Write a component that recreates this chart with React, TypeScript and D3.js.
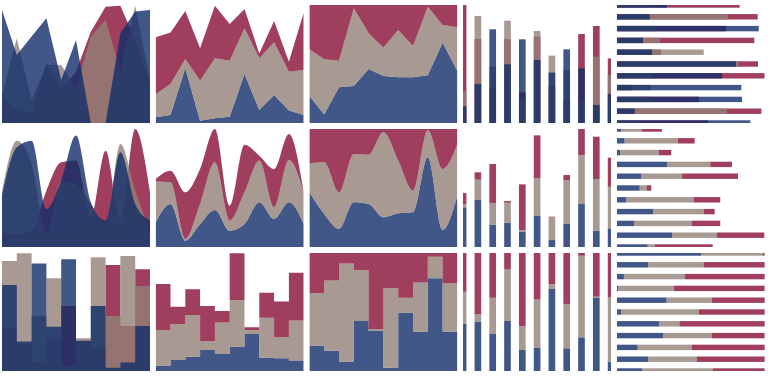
import React from 'react';
import * as d3 from 'd3';

const W = 771;
const H = 378;
const PW = 148;
const PH = 118;
const COL_X = [2, 155.7, 309.4, 463.1, 616.8];
const ROW_Y = [5, 129, 253];
const COLORS: Record<string, string> = { blue: '#102d69', gray: '#928177', red: '#870f34' };
const FILL_OPACITY = 0.8;
const STACK_KEYS = ['blue', 'gray', 'red'];
const OVERLAY_ORDER = ['red', 'gray', 'blue'];

// ---- Row 0 : linear ----
const r0AreaOverlayBlue = [95.8, 57.6, 73.2, 88.7, 36.4, 70.3, 0, 0, 76.0, 94.4, 95.8];
const r0AreaOverlayGray = [23.7, 71.8, 19.5, 49.2, 49.2, 29.4, 73.2, 87.3, 44.9, 99.4, 36.4];
const r0AreaOverlayRed = [22.3, 11.0, 8.2, 50.6, 28.0, 43.5, 77.4, 98.6, 99.4, 70.3, 33.6];

const r0AreaStackBlue = [4.8, 6.8, 46.3, 2.0, 4.0, 5.4, 41.5, 11.0, 23.7, 10.5, 6.8];
const r0AreaStackGray = [19.5, 26.3, 7.9, 33.9, 50.8, 47.4, 38.7, 43.8, 44.7, 33.0, 38.1];
const r0AreaStackRed = [48.3, 43.7, 40.7, 27.4, 44.6, 31.1, 16.4, 4.2, 18.0, 8.5, 48.6];

const r0AreaNormBlue = [22.9, 7.3, 30.2, 31.4, 45.8, 39.8, 38.7, 38.7, 40.4, 68.1, 44.1];
const r0AreaNormGray = [39.5, 46.7, 22.6, 65.8, 30.2, 24.0, 40.1, 26.6, 58.2, 15.0, 37.0];
const r0AreaNormRed = [37.6, 46.0, 47.2, 2.8, 24.0, 36.2, 21.2, 34.7, 1.4, 16.9, 18.9];

const r0VBarBlue = [14.1, 33.1, 79.4, 49.7, 70.9, 53.4, 42.7, 62.4, 46.3, 15.3, 24.6];
const r0VBarGray = [27.1, 90.7, 47.7, 86.7, 21.5, 78.0, 57.1, 44.9, 18.1, 56.2, 40.7];
const r0VBarRed = [100, 71.2, 30.2, 71.2, 26.0, 73.2, 31.4, 19.5, 75.4, 82.2, 54.8];

const r0HBarBlue = [33.9, 22.2, 95.9, 17.7, 23.8, 80.5, 71.1, 84.1, 84.6, 12.1, 90.2];
const r0HBarGray = [23.8, 75.1, 26.0, 29.0, 58.7, 82.3, 24.5, 23.1, 24.5, 74.5, 15.9];
const r0HBarRed = [83.0, 95.2, 73.8, 92.9, 29.9, 95.4, 99.9, 10.3, 55.3, 97.7, 61.6];

// ---- Row 1 : smooth ----
const r1AreaOverlayBlue = [43.5, 84.5, 90.1, 32.2, 56.2, 94.4, 37.9, 22.3, 80.2, 36.4, 22.3];
const r1AreaOverlayGray = [46.3, 90.1, 70.3, 11.0, 56.2, 53.4, 36.4, 19.5, 87.3, 47.7, 13.8];
const r1AreaOverlayRed = [11.0, 11.0, 13.8, 47.7, 71.8, 73.2, 25.1, 81.6, 22.3, 100, 46.3];

const r1AreaStackBlue = [20.9, 36.4, 5.4, 19.5, 31.4, 13.8, 19.5, 37.9, 23.7, 37.9, 19.5];
const r1AreaStackGray = [34.7, 18.4, 1.4, 16.9, 40.4, 8.5, 26.8, 35.3, 9.9, 35.8, 26.3];
const r1AreaStackRed = [2.0, 9.9, 39.5, 29.7, 28.2, 12.7, 40.4, 4.2, 32.5, 22.1, 0.5];

const r1AreaNormBlue = [46.3, 28.0, 15.3, 37.9, 36.4, 25.1, 28.5, 29.4, 76.0, 14.4, 43.5];
const r1AreaNormGray = [24.6, 43.8, 31.0, 40.9, 41.8, 72.1, 44.7, 18.3, 23.2, 51.7, 43.8];
const r1AreaNormRed = [29.1, 28.2, 53.7, 21.2, 21.8, 2.8, 26.8, 52.3, 0.8, 33.9, 12.7];

const r1VBarBlue = [33.6, 39.8, 18.9, 20.6, 13.0, 26.6, 5.9, 19.5, 36.4, 13.8, 15.8];
const r1VBarGray = [2.8, 17.3, 18.4, 17.0, 1.4, 31.9, 19.2, 37.3, 41.6, 43.8, 35.3];
const r1VBarRed = [9.4, 6.2, 33.0, 1.4, 38.7, 36.1, 0.6, 4.2, 22.0, 35.9, 24.6];

const r1HBarBlue = [3.1, 5.3, 2.4, 33.9, 16.6, 15.5, 6.4, 24.5, 11.6, 37.3, 20.9];
const r1HBarGray = [13.9, 36.0, 25.9, 29.3, 27.5, 4.9, 45.5, 34.4, 39.2, 30.4, 4.7];
const r1HBarRed = [13.5, 11.3, 8.5, 14.6, 37.8, 2.9, 18.0, 7.2, 19.1, 32.0, 39.2];

// ---- Row 2 : step ----
const r2AreaOverlayBlue = [72.9, 24.9, 91.2, 37.6, 94.6, 25.7, 55.1, 2.8, 7.1, 38.1, 38.1];
const r2AreaOverlayGray = [93.2, 99.7, 46.9, 78.5, 4.2, 27.7, 96.3, 46.6, 97.5, 72.0, 72.0];
const r2AreaOverlayRed = [36.7, 23.4, 7.1, 27.1, 55.1, 25.7, 20.6, 89.8, 38.1, 86.2, 86.2];

const r2AreaStackBlue = [4.5, 9.3, 12.1, 17.8, 14.4, 20.6, 31.4, 11.3, 10.7, 8.8, 8.8];
const r2AreaStackGray = [30.2, 30.5, 35.4, 7.6, 26.6, 39.6, 3.3, 33.9, 17.8, 33.9, 33.9];
const r2AreaStackRed = [39.0, 14.7, 21.7, 29.7, 9.8, 39.5, 2.3, 21.2, 30.3, 40.6, 40.6];

const r2AreaNormBlue = [21.5, 17.2, 7.9, 42.4, 33.9, 2.8, 49.4, 33.3, 78.5, 33.3, 33.3];
const r2AreaNormGray = [44.3, 59.4, 83.3, 43.2, 1.4, 67.3, 12.7, 41.8, 18.4, 41.0, 41.0];
const r2AreaNormRed = [34.2, 23.4, 8.8, 14.4, 64.7, 29.9, 37.9, 24.9, 3.1, 25.7, 25.7];

const r2VBarBlue = [39.8, 41.8, 31.4, 42.4, 17.8, 19.8, 69.5, 19.2, 28.5, 62.1, 7.9];
const r2VBarGray = [27.4, 6.5, 30.7, 44.0, 20.3, 40.9, 4.2, 37.6, 69.2, 0.9, 54.5];
const r2VBarRed = [32.8, 51.7, 37.9, 13.6, 61.9, 39.3, 26.3, 43.2, 2.3, 37.0, 37.6];

const r2HBarBlue = [56.9, 21.3, 4.8, 1.0, 33.7, 2.8, 28.8, 31.4, 14.1, 21.3, 17.3];
const r2HBarGray = [41.7, 37.6, 41.3, 37.6, 30.6, 52.7, 13.5, 32.9, 36.5, 32.7, 47.5];
const r2HBarRed = [1.4, 41.1, 53.9, 61.4, 35.7, 44.5, 57.7, 35.7, 49.4, 46.0, 35.2];

type Mode = 'overlay' | 'stack' | 'normalize';
type Kind = 'area' | 'vbar' | 'hbar';
interface Spec {
  row: number;
  col: number;
  kind: Kind;
  mode: Mode;
  curve?: any;
  blue: number[];
  gray: number[];
  red: number[];
}

const CURVES = [d3.curveLinear, d3.curveMonotoneX, d3.curveStepAfter];

const SPECS: Spec[] = [
  { row: 0, col: 0, kind: 'area', mode: 'overlay', curve: CURVES[0], blue: r0AreaOverlayBlue, gray: r0AreaOverlayGray, red: r0AreaOverlayRed },
  { row: 0, col: 1, kind: 'area', mode: 'stack', curve: CURVES[0], blue: r0AreaStackBlue, gray: r0AreaStackGray, red: r0AreaStackRed },
  { row: 0, col: 2, kind: 'area', mode: 'normalize', curve: CURVES[0], blue: r0AreaNormBlue, gray: r0AreaNormGray, red: r0AreaNormRed },
  { row: 0, col: 3, kind: 'vbar', mode: 'overlay', blue: r0VBarBlue, gray: r0VBarGray, red: r0VBarRed },
  { row: 0, col: 4, kind: 'hbar', mode: 'overlay', blue: r0HBarBlue, gray: r0HBarGray, red: r0HBarRed },
  { row: 1, col: 0, kind: 'area', mode: 'overlay', curve: CURVES[1], blue: r1AreaOverlayBlue, gray: r1AreaOverlayGray, red: r1AreaOverlayRed },
  { row: 1, col: 1, kind: 'area', mode: 'stack', curve: CURVES[1], blue: r1AreaStackBlue, gray: r1AreaStackGray, red: r1AreaStackRed },
  { row: 1, col: 2, kind: 'area', mode: 'normalize', curve: CURVES[1], blue: r1AreaNormBlue, gray: r1AreaNormGray, red: r1AreaNormRed },
  { row: 1, col: 3, kind: 'vbar', mode: 'stack', blue: r1VBarBlue, gray: r1VBarGray, red: r1VBarRed },
  { row: 1, col: 4, kind: 'hbar', mode: 'stack', blue: r1HBarBlue, gray: r1HBarGray, red: r1HBarRed },
  { row: 2, col: 0, kind: 'area', mode: 'overlay', curve: CURVES[2], blue: r2AreaOverlayBlue, gray: r2AreaOverlayGray, red: r2AreaOverlayRed },
  { row: 2, col: 1, kind: 'area', mode: 'stack', curve: CURVES[2], blue: r2AreaStackBlue, gray: r2AreaStackGray, red: r2AreaStackRed },
  { row: 2, col: 2, kind: 'area', mode: 'normalize', curve: CURVES[2], blue: r2AreaNormBlue, gray: r2AreaNormGray, red: r2AreaNormRed },
  { row: 2, col: 3, kind: 'vbar', mode: 'normalize', blue: r2VBarBlue, gray: r2VBarGray, red: r2VBarRed },
  { row: 2, col: 4, kind: 'hbar', mode: 'normalize', blue: r2HBarBlue, gray: r2HBarGray, red: r2HBarRed },
];

type Layer = { key: string; segs: [number, number][] };

function buildLayers(spec: Spec): Layer[] {
  const n = spec.blue.length;
  const table = d3.range(n).map((i) => ({ blue: spec.blue[i], gray: spec.gray[i], red: spec.red[i] })) as any[];
  if (spec.mode === 'overlay') {
    return OVERLAY_ORDER.map((k) => ({ key: k, segs: table.map((d) => [0, d[k]] as [number, number]) }));
  }
  const st = d3
    .stack<any>()
    .keys(STACK_KEYS)
    .offset(spec.mode === 'normalize' ? d3.stackOffsetExpand : d3.stackOffsetNone)(table);
  return st.map((s) => ({ key: s.key, segs: s.map((p) => [p[0], p[1]] as [number, number]) }));
}

function Panel({ spec }: { spec: Spec }) {
  const layers = buildLayers(spec);
  const n = spec.blue.length;
  const vmax = spec.mode === 'normalize' ? 1 : 100;
  const clipId = `clip-${spec.row}-${spec.col}`;
  let content: React.ReactNode = null;

  if (spec.kind === 'area') {
    const x = d3.scaleLinear().domain([0, n - 1]).range([0, PW]);
    const y = d3.scaleLinear().domain([0, vmax]).range([PH, 0]);
    const area = d3
      .area<[number, number]>()
      .x((_, i) => x(i))
      .y0((d) => y(d[0]))
      .y1((d) => y(d[1]))
      .curve(spec.curve);
    content = layers.map((l) => (
      <path key={l.key} d={area(l.segs) || ''} fill={COLORS[l.key]} fillOpacity={FILL_OPACITY} />
    ));
  } else if (spec.kind === 'vbar') {
    const x = d3.scaleLinear().domain([0, n - 1]).range([0, PW]);
    const y = d3.scaleLinear().domain([0, vmax]).range([PH, 0]);
    const bw = (PW / (n - 1)) * 0.45;
    content = layers.map((l) => (
      <g key={l.key}>
        {l.segs.map((s, i) => (
          <rect
            key={i}
            x={x(i) - bw / 2}
            y={y(s[1])}
            width={bw}
            height={Math.max(0, y(s[0]) - y(s[1]))}
            fill={COLORS[l.key]}
            fillOpacity={FILL_OPACITY}
          />
        ))}
      </g>
    ));
  } else {
    const xv = d3.scaleLinear().domain([0, vmax]).range([0, PW]);
    const yi = d3.scaleLinear().domain([0, n - 1]).range([0, PH]);
    const bh = (PH / (n - 1)) * 0.46;
    content = layers.map((l) => (
      <g key={l.key}>
        {l.segs.map((s, i) => (
          <rect
            key={i}
            x={xv(s[0])}
            y={yi(i) - bh / 2}
            width={Math.max(0, xv(s[1]) - xv(s[0]))}
            height={bh}
            fill={COLORS[l.key]}
            fillOpacity={FILL_OPACITY}
          />
        ))}
      </g>
    ));
  }

  return (
    <g transform={`translate(${COL_X[spec.col]},${ROW_Y[spec.row]})`}>
      <defs>
        <clipPath id={clipId}>
          <rect x={0} y={0} width={PW} height={PH} />
        </clipPath>
      </defs>
      <g clipPath={`url(#${clipId})`}>{content}</g>
    </g>
  );
}

export default function App() {
  return (
    <svg
      width={W}
      height={H}
      viewBox={`0 0 ${W} ${H}`}
      style={{ position: 'absolute', left: 0, top: 0, background: '#fff' }}
    >
      {SPECS.map((s) => (
        <Panel key={`${s.row}-${s.col}`} spec={s} />
      ))}
    </svg>
  );
}
